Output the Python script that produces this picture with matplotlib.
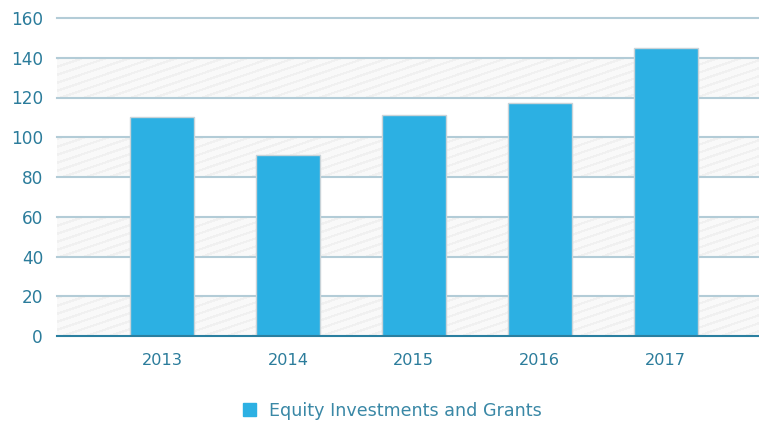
import matplotlib.pyplot as plt
import numpy as np
from matplotlib.patches import Rectangle

years = ['2013', '2014', '2015', '2016', '2017']
equity_grants = [110, 91, 111, 117, 145]
y_ticks = [0, 20, 40, 60, 80, 100, 120, 140, 160]

label_color = '#2b7c9b'
bar_color = '#2cb0e3'
grid_color = '#b3ccd7'

fig = plt.figure(figsize=(7.59, 4.22), dpi=100)
ax = fig.add_axes([57 / 759, 86 / 422, 702 / 759, 318 / 422])

x = np.arange(len(years))
xlim = (-0.833, 4.74)
ax.set_xlim(*xlim)
ax.set_ylim(0, 160)

# striped background in every other band (0-20, 40-60, ...)
w_px, h_px = 702, 40
xx, yy = np.meshgrid(np.arange(w_px), np.arange(h_px))
stripes = ((xx * 0.34 + yy) % 8) < 2.5
pattern = np.ones((h_px, w_px, 3)) * 0.98
pattern[stripes] = 0.945
for lo in y_ticks[:-1:2]:
    ax.imshow(pattern, extent=(xlim[0], xlim[1], lo, lo + 20),
              aspect='auto', zorder=0, interpolation='bilinear')

for t in y_ticks[1:]:
    ax.axhline(t, color=grid_color, linewidth=1.5, zorder=1, clip_on=False)

bars = ax.bar(x, equity_grants, width=0.505, color=bar_color,
              edgecolor='#c9d3d8', linewidth=1, zorder=2,
              label='Equity Investments and Grants')

for side in ['top', 'right', 'left']:
    ax.spines[side].set_visible(False)
ax.spines['bottom'].set_color('#2a7fa0')
ax.spines['bottom'].set_linewidth(1.5)
ax.spines['bottom'].set_zorder(3)

ax.set_xticks(x)
ax.set_xticklabels(years)
ax.set_yticks(y_ticks)
ax.tick_params(axis='both', length=0, labelcolor=label_color)
ax.tick_params(axis='y', labelsize=12.2, pad=10)
ax.tick_params(axis='x', labelsize=11.6, pad=12)

leg = fig.legend(handles=[Rectangle((0, 0), 1, 1, color=bar_color)],
                 labels=['Equity Investments and Grants'],
                 loc='center', bbox_to_anchor=(0.517, 11 / 422),
                 frameon=False, fontsize=12.6, handlelength=0.75,
                 handleheight=0.75, handletextpad=0.7)
for txt in leg.get_texts():
    txt.set_color('#3a88a6')

fig.savefig('out.png', dpi=100)
